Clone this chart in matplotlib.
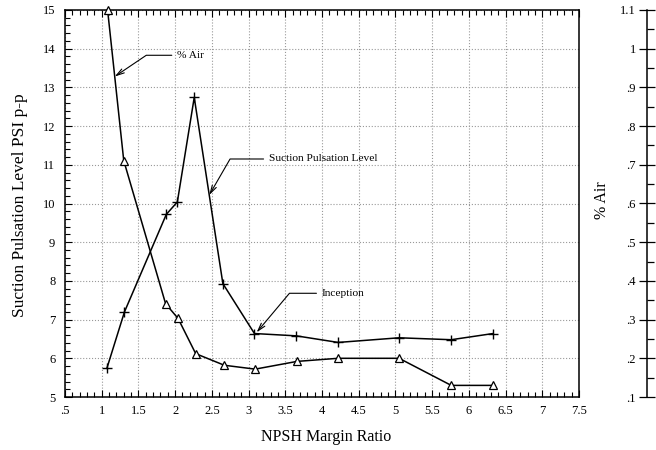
import numpy as np
import matplotlib
matplotlib.use("Agg")
import matplotlib.pyplot as plt
import matplotlib.ticker as ticker

plt.rcParams['font.family'] = ['Liberation Serif', 'DejaVu Serif']

# Suction pulsation level (PSI p-p) vs NPSH margin ratio
npsh_pulse = [1.07, 1.31, 1.88, 2.03, 2.26, 2.65, 3.08, 3.65, 4.22, 5.05, 5.76, 6.33]
pulse_psi = [5.74, 7.2, 9.72, 10.04, 12.74, 7.93, 6.64, 6.58, 6.41, 6.53, 6.48, 6.64]

# Percent air vs NPSH margin ratio
npsh_air = [1.08, 1.3, 1.87, 2.04, 2.28, 2.67, 3.09, 3.66, 4.22, 5.05, 5.76, 6.33]
air_pct = [1.1, 0.711, 0.341, 0.303, 0.212, 0.182, 0.172, 0.192, 0.2, 0.2, 0.13, 0.13]


def no_lead_zero(v, pos):
    s = f"{v:.1f}".rstrip('0').rstrip('.')
    if s.startswith('0.'):
        s = s[1:]
    return s


fig = plt.figure(figsize=(6.56, 4.5), dpi=100)
ax = fig.add_axes([65 / 656, 53 / 450, 514 / 656, 387 / 450])
ax.set_xlim(0.5, 7.5)
ax.set_ylim(5, 15)
ax.xaxis.set_major_locator(ticker.MultipleLocator(0.5))
ax.xaxis.set_minor_locator(ticker.MultipleLocator(0.1))
ax.yaxis.set_major_locator(ticker.MultipleLocator(1))
ax.yaxis.set_minor_locator(ticker.MultipleLocator(0.2))
ax.xaxis.set_major_formatter(ticker.FuncFormatter(no_lead_zero))
ax.tick_params(which='both', direction='in', top=True, right=True, labelsize=9, width=0.8)
ax.tick_params(which='major', length=5)
ax.tick_params(which='minor', length=3.5)
ax.tick_params(axis='y', pad=7)
ax.tick_params(axis='x', pad=6)
ax.grid(True, which='major', color='#999999', linestyle=':', linewidth=0.8)
for sp in ax.spines.values():
    sp.set_linewidth(1.1)

ax.plot(npsh_pulse, pulse_psi, color='black', lw=1.1, marker='+', ms=7, mew=1.0, zorder=3)

# % Air shares the plot area, scaled 0.1 - 1.1
ax_air = ax.twinx()
ax_air.set_ylim(0.1, 1.1)
ax_air.set_axis_off()
ax_air.plot(npsh_air, air_pct, color='black', lw=1.1, marker='^', ms=6, mfc='white',
            mew=0.9, clip_on=False, zorder=3)

# separate scale for % Air on the far right
ax_scale = fig.add_axes([647 / 656, 53 / 450, 0.0001, 387 / 450])
ax_scale.set_ylim(0.1, 1.1)
ax_scale.patch.set_visible(False)
for name in ['top', 'right', 'bottom']:
    ax_scale.spines[name].set_visible(False)
ax_scale.spines['left'].set_linewidth(1.1)
ax_scale.set_xticks([])
ax_scale.yaxis.set_major_locator(ticker.MultipleLocator(0.1))
ax_scale.yaxis.set_minor_locator(ticker.MultipleLocator(0.05))
ax_scale.yaxis.set_major_formatter(ticker.FuncFormatter(no_lead_zero))
ax_scale.tick_params(axis='y', which='major', direction='inout', length=12, width=0.9, labelsize=9, pad=2)
ax_scale.tick_params(axis='y', which='minor', direction='in', length=5, width=0.9)

fig.text(602 / 656, 1 - 200 / 450, '% Air', rotation=90, ha='center', va='center', fontsize=11.5)
fig.text(20 / 656, 1 - 205 / 450, 'Suction Pulsation Level PSI p-p', rotation=90,
         ha='center', va='center', fontsize=12.5)
fig.text(326 / 656, 1 - 437 / 450, 'NPSH Margin Ratio', ha='center', va='center', fontsize=11.5)

arrow = dict(arrowstyle='->,head_length=0.7,head_width=0.2', color='black', lw=0.8,
             shrinkA=2, shrinkB=0)
ax.annotate('% Air', xy=(1.177, 13.28), xytext=(2.03, 13.83), ha='left', va='center',
            fontsize=8.2, arrowprops=dict(arrow, connectionstyle='angle,angleA=0,angleB=34,rad=0'))
ax.annotate('Suction Pulsation Level', xy=(2.465, 10.22), xytext=(3.28, 11.15), ha='left',
            va='center', fontsize=8.2,
            arrowprops=dict(arrow, connectionstyle='angle,angleA=0,angleB=60,rad=0'))
ax.annotate('Inception', xy=(3.11, 6.67), xytext=(4.0, 7.68), ha='left', va='center',
            fontsize=8.2, arrowprops=dict(arrow, connectionstyle='angle,angleA=0,angleB=50,rad=0'))

fig.savefig('out.png', dpi=100)
